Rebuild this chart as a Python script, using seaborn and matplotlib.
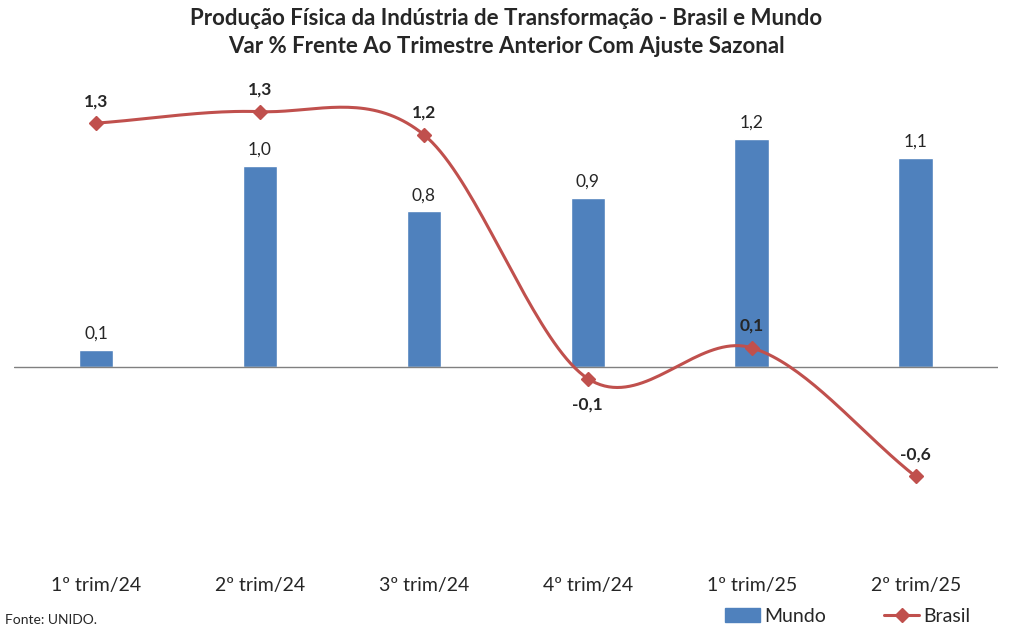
import numpy as np
import pandas as pd
import seaborn as sns
import matplotlib.pyplot as plt
from matplotlib.lines import Line2D
from matplotlib.patches import Patch

categories = ['1º trim/24', '2º trim/24', '3º trim/24', '4º trim/24', '1º trim/25', '2º trim/25']
mundo = [0.09, 1.045, 0.81, 0.88, 1.19, 1.09]
brasil = [1.27, 1.33, 1.21, -0.06, 0.10, -0.57]
brasil_label_below = [False, False, False, True, False, False]

title = 'Produção Física da Indústria de Transformação - Brasil e Mundo\nVar % Frente Ao Trimestre Anterior Com Ajuste Sazonal'

BAR_COLOR = '#4F81BD'
LINE_COLOR = '#C0504D'


def catmull_rom(xs, ys, n=40):
    # smooth curve through the points, like excel's "smoothed line"
    pts = np.column_stack([xs, ys]).astype(float)
    p = np.vstack([pts[0] - (pts[1] - pts[0]), pts, pts[-1] + (pts[-1] - pts[-2])])
    out = []
    for i in range(1, len(p) - 2):
        p0, p1, p2, p3 = p[i - 1], p[i], p[i + 1], p[i + 2]
        c1 = p1 + (p2 - p0) / 6
        c2 = p2 - (p3 - p1) / 6
        t = np.linspace(0, 1, n)[:, None]
        seg = (1 - t) ** 3 * p1 + 3 * (1 - t) ** 2 * t * c1 + 3 * (1 - t) * t ** 2 * c2 + t ** 3 * p2
        out.append(seg if i == 1 else seg[1:])
    out = np.vstack(out)
    return out[:, 0], out[:, 1]


def fmt(v):
    return f'{v:.1f}'.replace('.', ',')


sns.set_style('white')
plt.rcParams['font.family'] = ['Lato', 'DejaVu Sans']

fig = plt.figure(figsize=(10.13, 6.32), dpi=100)
ax = fig.add_axes([0.0138, 0.1155, 0.971, 0.7595])

df = pd.DataFrame({'cat': categories, 'mundo': mundo, 'brasil': brasil})
sns.barplot(data=df, x='cat', y='mundo', color=BAR_COLOR, width=0.21, ax=ax, saturation=1)

xpos = np.arange(len(categories))
sx, sy = catmull_rom(xpos, brasil)
smooth = pd.DataFrame({'x': sx, 'y': sy})
sns.lineplot(data=smooth, x='x', y='y', color=LINE_COLOR, linewidth=2.2, sort=False, ax=ax)
ax.plot(xpos, brasil, linestyle='none', marker='D', markersize=7, color=LINE_COLOR, zorder=5)

ax.axhline(0, color='#808080', linewidth=1, zorder=1)

for i, v in enumerate(mundo):
    ax.annotate(fmt(v), (i, v), xytext=(0, 6), textcoords='offset points',
                ha='center', va='bottom', fontsize=12.5)

for i, v in enumerate(brasil):
    if brasil_label_below[i]:
        ax.annotate(fmt(v), (i, v), xytext=(0, -13), textcoords='offset points',
                    ha='center', va='top', fontsize=12.5, fontweight='bold')
    else:
        ax.annotate(fmt(v), (i, v), xytext=(0, 10), textcoords='offset points',
                    ha='center', va='bottom', fontsize=12.5, fontweight='bold')

ax.set_xlim(-0.5, len(categories) - 0.5)
ax.set_ylim(-1.0, 1.5)
ax.set_xlabel('')
ax.set_ylabel('')
ax.set_yticks([])
ax.tick_params(axis='x', length=0, labelsize=14, pad=13)
for s in ax.spines.values():
    s.set_visible(False)
ax.set_xticks(xpos)
ax.set_xticklabels(categories)

fig.text(0.5, 0.988, title, ha='center', va='top', fontsize=16, fontweight='bold', linespacing=1.45)
fig.text(0.005, 0.01, 'Fonte: UNIDO.', ha='left', va='bottom', fontsize=10)

handles = [Patch(color=BAR_COLOR, label='Mundo'),
           Line2D([0], [0], color=LINE_COLOR, marker='D', markersize=7, linewidth=2.2, label='Brasil')]
fig.legend(handles=handles, loc='lower right', bbox_to_anchor=(0.975, -0.016), ncol=2,
           frameon=False, fontsize=14, handlelength=1.8, handletextpad=0.2, columnspacing=3.0)

fig.savefig('out.png', dpi=100)
